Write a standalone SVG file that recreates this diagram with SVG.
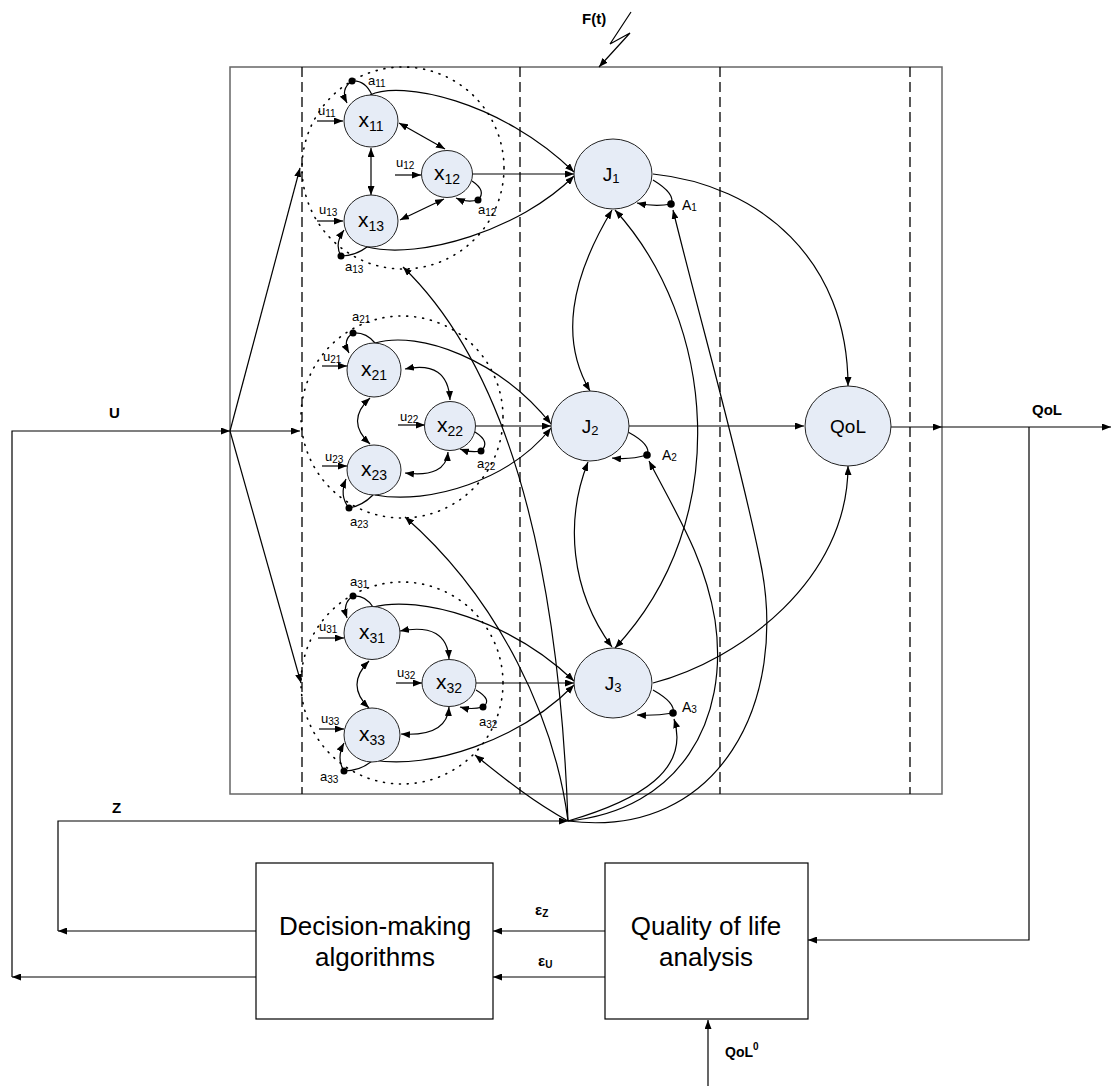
<svg xmlns="http://www.w3.org/2000/svg" width="1112" height="1086" viewBox="0 0 1112 1086">
<defs>
<marker id="ah" viewBox="0 0 9 7" refX="9" refY="3.5" markerWidth="9" markerHeight="7" markerUnits="userSpaceOnUse" orient="auto-start-reverse"><path d="M0,0 L9,3.5 L0,7 z" fill="#000"/></marker>
<style>
.t{font-family:"Liberation Sans",Arial,sans-serif;fill:#000}
.b{font-weight:bold}
.node{fill:#E6ECF6;stroke:#222;stroke-width:1}
.c{fill:none;stroke:#000;stroke-width:1.2}
.a{fill:none;stroke:#000;stroke-width:1.2;marker-end:url(#ah)}
.d{fill:none;stroke:#000;stroke-width:1.2;marker-start:url(#ah);marker-end:url(#ah)}
.dash{stroke:#000;stroke-width:1.3;stroke-dasharray:10,5}
.dot{fill:none;stroke:#000;stroke-width:1.6;stroke-dasharray:1,7;stroke-linecap:round}
.nl{font-size:21px}
.sub{font-size:14px}
.sl{font-size:13px}
.ss{font-size:10px}
.box{fill:#fff;stroke:#000;stroke-width:1.2}
</style>
</defs>
<rect width="1112" height="1086" fill="#fff"/>

<g id="frame">
<rect x="230" y="67" width="712" height="727" fill="none" stroke="#666" stroke-width="1.5"/>
<line class="dash" x1="302" y1="67" x2="302" y2="794"/>
<line class="dash" x1="520" y1="67" x2="520" y2="794"/>
<line class="dash" x1="720" y1="67" x2="720" y2="794"/>
<line class="dash" x1="910" y1="67" x2="910" y2="794"/>
<circle class="dot" cx="403" cy="168" r="101"/>
<circle class="dot" cx="402" cy="417" r="101"/>
<circle class="dot" cx="402" cy="683" r="101"/>
</g>

<g id="connectors">
<!-- F(t) -->
<path class="a" d="M631,12 L610,44 L630,33 L599,67"/>
<!-- U input fan -->
<path class="a" d="M12,977 L12,431 L230,431"/>
<path class="a" d="M230,431 L300,168"/>
<path class="a" d="M230,431 L300,431"/>
<path class="a" d="M230,431 L301,683"/>
<!-- cluster 1 -->
<path class="a" d="M317,121 L343,121"/>
<path class="a" d="M395,175 L421,175"/>
<path class="a" d="M317,221 L343,221"/>
<path class="d" d="M399,123 L445,149"/>
<path class="d" d="M371,148 L371,195"/>
<path class="d" d="M444,199 L400,220"/>
<path class="c" d="M372,95 Q365,80 352,81"/>
<path class="a" d="M352,81 Q340,89 347,103"/>
<path class="c" d="M472,181 Q487,191 478,200"/>
<path class="a" d="M478,200 Q467,203 456,198"/>
<path class="c" d="M367,247 Q355,256 341,256"/>
<path class="a" d="M341,256 Q334,244 344,230"/>
<path class="a" d="M370,95 C400,80 500,100 574,172"/>
<path class="a" d="M472,174 L574,174"/>
<path class="a" d="M367,247 C420,260 520,230 574,176"/>
<!-- cluster 2 -->
<path class="a" d="M322,366 L347,366"/>
<path class="a" d="M398,425 L425,425"/>
<path class="a" d="M322,466 L347,466"/>
<path class="d" d="M405,369 Q448,360 450,400"/>
<path class="d" d="M370,398 Q345,421 370,444"/>
<path class="d" d="M448,452 Q446,478 405,473"/>
<path class="c" d="M375,343 Q366,332 353,333"/>
<path class="a" d="M353,333 Q342,340 349,353"/>
<path class="c" d="M475,432 Q491,442 481,451"/>
<path class="a" d="M481,451 Q471,453 460,449"/>
<path class="c" d="M373,495 Q362,506 349,508"/>
<path class="a" d="M349,508 Q339,496 346,479"/>
<path class="a" d="M375,343 C420,330 500,360 551,424"/>
<path class="a" d="M476,426 L551,426"/>
<path class="a" d="M375,495 C430,505 510,480 551,428"/>
<!-- cluster 3 -->
<path class="a" d="M318,638 L344,638"/>
<path class="a" d="M396,683 L422,683"/>
<path class="a" d="M319,729 L344,729"/>
<path class="d" d="M400,631 Q447,622 449,659"/>
<path class="d" d="M369,661 Q345,685 369,708"/>
<path class="d" d="M449,707 Q447,737 401,734"/>
<path class="c" d="M373,607 Q365,595 353,596"/>
<path class="a" d="M353,596 Q342,603 347,618"/>
<path class="c" d="M476,690 Q493,700 483,707"/>
<path class="a" d="M483,707 Q471,710 460,707"/>
<path class="c" d="M372,761 Q360,771 344,771"/>
<path class="a" d="M344,771 Q336,758 344,743"/>
<path class="a" d="M373,607 C420,595 510,620 574,681"/>
<path class="a" d="M476,683 L574,683"/>
<path class="a" d="M373,760 C430,770 520,740 574,685"/>
<!-- J interconnections -->
<path class="d" d="M612,210 C570,280 560,340 590,391"/>
<path class="d" d="M615,210 C715,320 735,520 615,648"/>
<path class="d" d="M588,462 C565,520 570,590 612,647"/>
<!-- J self loops -->
<path class="c" d="M653,180 Q676,194 671,204"/>
<path class="a" d="M671,204 Q655,207 637,203"/>
<path class="c" d="M628,432 Q652,445 647,455"/>
<path class="a" d="M647,455 Q630,460 612,458"/>
<path class="c" d="M653,690 Q676,703 673,713"/>
<path class="a" d="M673,713 Q655,716 637,715"/>
<!-- to QoL -->
<path class="a" d="M653,174 C760,185 848,260 848,386"/>
<path class="a" d="M629,426 L804,426"/>
<path class="a" d="M653,683 C740,660 848,580 848,466"/>
<path class="a" d="M891,427 L942,427"/>
<path class="a" d="M942,427 L1111,427"/>
<!-- feedback -->
<path class="a" d="M1029,427 L1029,940 L808,940"/>
<path class="a" d="M708,1086 L708,1020"/>
<path class="a" d="M605,931 L493,931"/>
<path class="a" d="M605,977 L493,977"/>
<path class="a" d="M256,931 L58,931"/>
<path class="a" d="M256,977 L12,977"/>
<path class="a" d="M58,931 L58,821 L568,821"/>
<!-- Z hub -->
<path class="a" d="M568,821 C560,600 520,380 403,267"/>
<path class="a" d="M568,821 C555,720 500,600 405,517"/>
<path class="a" d="M568,821 C530,800 500,775 475,755"/>
<path class="a" d="M568,821 C640,800 690,770 674,719"/>
<path class="a" d="M568,821 C680,810 730,720 715,620 C705,560 680,520 649,461"/>
<path class="a" d="M568,821 C720,840 790,700 760,560 C740,460 700,320 673,210"/>
</g>

<g id="dots" fill="#000">
<circle cx="352" cy="81" r="3.5"/>
<circle cx="478" cy="200" r="3.5"/>
<circle cx="341" cy="256" r="3.5"/>
<circle cx="353" cy="333" r="3.5"/>
<circle cx="481" cy="451" r="3.5"/>
<circle cx="349" cy="508" r="3.5"/>
<circle cx="353" cy="596" r="3.5"/>
<circle cx="483" cy="707" r="3.5"/>
<circle cx="344" cy="771" r="3.5"/>
<circle cx="671" cy="204" r="3.8"/>
<circle cx="647" cy="455" r="3.8"/>
<circle cx="673" cy="713" r="3.8"/>
</g>

<g id="x11"><ellipse class="node" cx="371" cy="121" rx="27" ry="26"/><text class="t nl" x="371" y="127" text-anchor="middle">x<tspan class="sub" dy="4">11</tspan></text></g>
<g id="x12"><ellipse class="node" cx="447" cy="174" rx="25.5" ry="23.5"/><text class="t nl" x="447" y="180" text-anchor="middle">x<tspan class="sub" dy="4">12</tspan></text></g>
<g id="x13"><ellipse class="node" cx="371" cy="221" rx="27" ry="26"/><text class="t nl" x="371" y="227" text-anchor="middle">x<tspan class="sub" dy="4">13</tspan></text></g>
<g id="x21"><ellipse class="node" cx="374" cy="370" rx="27" ry="27"/><text class="t nl" x="374" y="376" text-anchor="middle">x<tspan class="sub" dy="4">21</tspan></text></g>
<g id="x22"><ellipse class="node" cx="450" cy="426" rx="25.5" ry="24.5"/><text class="t nl" x="450" y="432" text-anchor="middle">x<tspan class="sub" dy="4">22</tspan></text></g>
<g id="x23"><ellipse class="node" cx="374" cy="470" rx="27" ry="25"/><text class="t nl" x="374" y="476" text-anchor="middle">x<tspan class="sub" dy="4">23</tspan></text></g>
<g id="x31"><ellipse class="node" cx="372" cy="633" rx="28" ry="26.5"/><text class="t nl" x="372" y="639" text-anchor="middle">x<tspan class="sub" dy="4">31</tspan></text></g>
<g id="x32"><ellipse class="node" cx="449" cy="683" rx="27" ry="23.5"/><text class="t nl" x="449" y="689" text-anchor="middle">x<tspan class="sub" dy="4">32</tspan></text></g>
<g id="x33"><ellipse class="node" cx="372" cy="735" rx="28" ry="27"/><text class="t nl" x="372" y="741" text-anchor="middle">x<tspan class="sub" dy="4">33</tspan></text></g>
<g id="J1"><ellipse class="node" cx="613" cy="174" rx="39" ry="35"/><text class="t" font-size="19" x="611" y="181" text-anchor="middle">J<tspan font-size="13" dy="2">1</tspan></text></g>
<g id="J2"><ellipse class="node" cx="590" cy="426" rx="39" ry="35"/><text class="t" font-size="19" x="590" y="433" text-anchor="middle">J<tspan font-size="13" dy="2">2</tspan></text></g>
<g id="J3"><ellipse class="node" cx="613" cy="683" rx="39" ry="35"/><text class="t" font-size="19" x="613" y="690" text-anchor="middle">J<tspan font-size="13" dy="2">3</tspan></text></g>
<g id="QoL"><ellipse class="node" cx="848" cy="426" rx="43" ry="40"/><text class="t" font-size="19" x="848" y="433" text-anchor="middle">QoL</text></g>

<g id="decision"><rect class="box" x="256" y="863" width="237" height="156"/><text class="t" font-size="26" x="375" y="935" text-anchor="middle">Decision-making</text><text class="t" font-size="26" x="375" y="966" text-anchor="middle">algorithms</text></g>
<g id="quality"><rect class="box" x="605" y="863" width="203" height="156"/><text class="t" font-size="26" x="706" y="935" text-anchor="middle">Quality of life</text><text class="t" font-size="26" x="706" y="966" text-anchor="middle">analysis</text></g>

<g id="labels" class="t">
<text class="sl" x="368" y="85">a<tspan class="ss" dy="2">11</tspan></text>
<text class="sl" x="478" y="214">a<tspan class="ss" dy="2">12</tspan></text>
<text class="sl" x="345" y="271">a<tspan class="ss" dy="2">13</tspan></text>
<text class="sl" x="352" y="321">a<tspan class="ss" dy="2">21</tspan></text>
<text class="sl" x="477" y="468">a<tspan class="ss" dy="2">22</tspan></text>
<text class="sl" x="350" y="526">a<tspan class="ss" dy="2">23</tspan></text>
<text class="sl" x="350" y="586">a<tspan class="ss" dy="2">31</tspan></text>
<text class="sl" x="479" y="726">a<tspan class="ss" dy="2">32</tspan></text>
<text class="sl" x="320" y="781">a<tspan class="ss" dy="2">33</tspan></text>
<text class="sl" x="318" y="115">u<tspan class="ss" dy="2">11</tspan></text>
<text class="sl" x="396" y="167">u<tspan class="ss" dy="2">12</tspan></text>
<text class="sl" x="319" y="214">u<tspan class="ss" dy="2">13</tspan></text>
<text class="sl" x="323" y="361">u<tspan class="ss" dy="2">21</tspan></text>
<text class="sl" x="400" y="421">u<tspan class="ss" dy="2">22</tspan></text>
<text class="sl" x="325" y="461">u<tspan class="ss" dy="2">23</tspan></text>
<text class="sl" x="319" y="631">u<tspan class="ss" dy="2">31</tspan></text>
<text class="sl" x="397" y="677">u<tspan class="ss" dy="2">32</tspan></text>
<text class="sl" x="321" y="723">u<tspan class="ss" dy="2">33</tspan></text>
<text font-size="14" x="682" y="210">A<tspan class="ss" dy="1">1</tspan></text>
<text font-size="14" x="662" y="460">A<tspan class="ss" dy="1">2</tspan></text>
<text font-size="14" x="682" y="712">A<tspan class="ss" dy="1">3</tspan></text>
<text class="b" font-size="15" x="582" y="24">F(t)</text>
<text class="b" font-size="15" x="109" y="418">U</text>
<text class="b" font-size="15" x="112" y="813">Z</text>
<text class="b" font-size="15" x="1032" y="415">QoL</text>
<text class="b" font-size="14" x="725" y="1057">QoL<tspan font-size="10" dy="-7">0</tspan></text>
<text class="b" font-size="15" x="535" y="915">ε<tspan font-size="10" dy="2">Z</tspan></text>
<text class="b" font-size="15" x="538" y="966">ε<tspan font-size="10" dy="2">U</tspan></text>
</g>
</svg>
